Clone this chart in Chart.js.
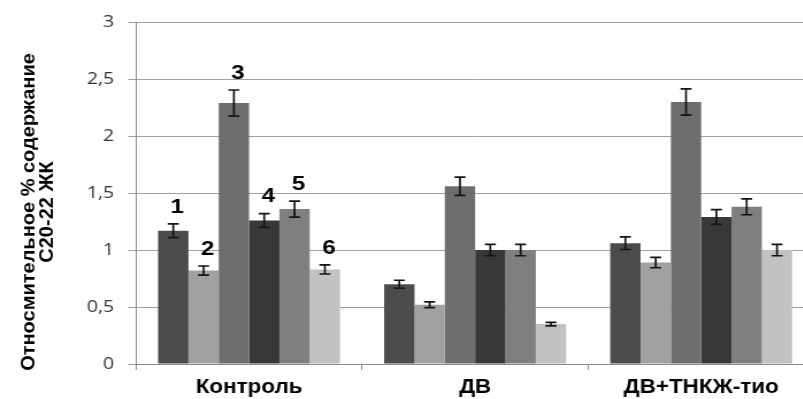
<!DOCTYPE html>
<html>
<head>
<meta charset="utf-8">
<script src="https://cdn.jsdelivr.net/npm/chart.js@4/dist/chart.umd.min.js"></script>
<style>
  html, body { margin: 0; padding: 0; background: #ffffff; }
  #wrap { width: 803px; height: 399px; overflow: hidden; position: relative; }
  /* the chart is drawn on a narrower canvas and widened horizontally */
  #c { display: block; transform: scaleX(1.15); transform-origin: 0 0; }
</style>
</head>
<body>
<div id="wrap"><canvas id="c" width="708" height="399"></canvas></div>
<script>
// Groups along the x axis
const categories = ['Контроль', 'ДВ', 'ДВ+ТНКЖ-тио'];

// Series numbers printed above the first group
const seriesNumbers = ['1', '2', '3', '4', '5', '6'];

// Mean values per series (one value per group)
const series1 = [1.17, 0.70, 1.06];
const series2 = [0.82, 0.52, 0.89];
const series3 = [2.29, 1.56, 2.30];
const series4 = [1.26, 1.00, 1.29];
const series5 = [1.36, 1.00, 1.38];
const series6 = [0.83, 0.35, 1.00];

// Error half-widths per series
const err1 = [0.06, 0.035, 0.055];
const err2 = [0.04, 0.025, 0.045];
const err3 = [0.115, 0.08, 0.115];
const err4 = [0.06, 0.05, 0.065];
const err5 = [0.07, 0.05, 0.07];
const err6 = [0.04, 0.015, 0.05];

// Y axis ticks
const yTicks = [0, 0.5, 1, 1.5, 2, 2.5, 3];
const yTitleLines = ['Относмительное % содержание', 'С20-22 ЖК'];

const seriesValues = [series1, series2, series3, series4, series5, series6];
const seriesErrors = [err1, err2, err3, err4, err5, err6];
const barColors = ['#4b4d4c', '#a1a1a1', '#6d6f6e', '#383838', '#7f7f7f', '#c2c2c2'];

const BOLD = '"Liberation Sans", Arial, sans-serif';
const STRETCH = 1.15;

// Vertical error bars with caps
const errorBars = {
  id: 'errorBars',
  afterDatasetsDraw(chart) {
    const ctx = chart.ctx;
    const y = chart.scales.y;
    ctx.save();
    ctx.strokeStyle = '#151515';
    ctx.lineWidth = 1.7;
    chart.data.datasets.forEach((ds, i) => {
      const meta = chart.getDatasetMeta(i);
      meta.data.forEach((bar, j) => {
        const v = ds.data[j], e = ds.errors[j];
        const top = y.getPixelForValue(v + e);
        const bot = y.getPixelForValue(v - e);
        const half = 4.8;
        ctx.beginPath();
        ctx.moveTo(bar.x, top); ctx.lineTo(bar.x, bot);
        ctx.moveTo(bar.x - half, top); ctx.lineTo(bar.x + half, top);
        ctx.moveTo(bar.x - half, bot); ctx.lineTo(bar.x + half, bot);
        ctx.stroke();
      });
    });
    ctx.restore();
  }
};

// Series numbers above the bars of the first group
const seriesTags = {
  id: 'seriesTags',
  afterDatasetsDraw(chart) {
    const ctx = chart.ctx;
    const y = chart.scales.y;
    ctx.save();
    ctx.fillStyle = '#000000';
    ctx.font = 'bold 21px ' + BOLD;
    ctx.textAlign = 'center';
    ctx.textBaseline = 'middle';
    chart.data.datasets.forEach((ds, i) => {
      const bar = chart.getDatasetMeta(i).data[0];
      const top = y.getPixelForValue(ds.data[0] + ds.errors[0]);
      ctx.fillText(seriesNumbers[i], bar.x + 3.5, top - 17);
    });
    ctx.restore();
  }
};

// Two-line rotated title of the value axis (kept at its natural width)
const yTitle = {
  id: 'yTitle',
  afterDraw(chart) {
    const ctx = chart.ctx;
    ctx.save();
    ctx.scale(1 / STRETCH, 1);
    ctx.fillStyle = '#000000';
    ctx.font = 'bold 20px ' + BOLD;
    ctx.textAlign = 'center';
    ctx.textBaseline = 'middle';
    ctx.translate(29, 212);
    ctx.rotate(-Math.PI / 2);
    yTitleLines.forEach((line, k) => ctx.fillText(line, 0, k * 18.5));
    ctx.restore();
  }
};

new Chart(document.getElementById('c'), {
  type: 'bar',
  data: {
    labels: categories,
    datasets: seriesValues.map((vals, i) => ({
      label: seriesNumbers[i],
      data: vals,
      errors: seriesErrors[i],
      backgroundColor: barColors[i],
      borderWidth: 0,
      categoryPercentage: 0.805,
      barPercentage: 1.0
    }))
  },
  options: {
    responsive: false,
    animation: false,
    devicePixelRatio: 1,
    layout: { padding: { top: 21, right: 0, bottom: 0, left: 0 } },
    plugins: { legend: { display: false }, tooltip: { enabled: false } },
    scales: {
      x: {
        offset: true,
        grid: { display: true, drawOnChartArea: false, drawTicks: true, tickLength: 6, color: '#8a8a8a', offset: true },
        border: { display: true, color: '#8a8a8a', width: 1 },
        ticks: {
          color: '#000000',
          padding: 8,
          font: { family: BOLD, size: 19.5, weight: 'bold', lineHeight: 1 }
        },
        afterFit(scale) { scale.height = 35; }
      },
      y: {
        min: 0,
        max: 3,
        afterBuildTicks(scale) { scale.ticks = yTicks.map(v => ({ value: v })); },
        grid: { color: '#a0a0a0', lineWidth: 1, drawTicks: true, tickLength: 7 },
        border: { display: true, color: '#8a8a8a', width: 1 },
        ticks: {
          color: '#333333',
          padding: 12,
          font: { family: '"Open Sans", sans-serif', size: 17 },
          callback: v => String(v).replace('.', ',')
        },
        afterFit(scale) { scale.width = 118.3; }
      }
    }
  },
  plugins: [errorBars, seriesTags, yTitle]
});
</script>
</body>
</html>
